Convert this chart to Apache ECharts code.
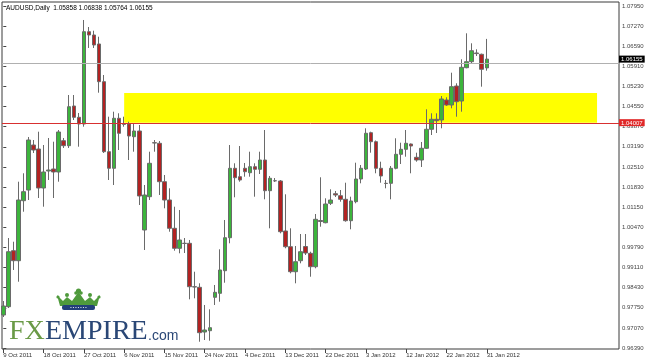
<!DOCTYPE html>
<html><head><meta charset="utf-8">
<script src="https://cdn.jsdelivr.net/npm/echarts@6/dist/echarts.min.js"></script>
<style>html,body{margin:0;padding:0;background:#fff}#c{width:645px;height:363px}</style>
</head><body><div id="c"></div>
<script>
// Bar index 0 = 9 Oct 2011 ... 96 = 31 Jan 2012 (daily bars)
const opens = [0.97507,0.97787,0.99680,0.99342,1.01370,1.01731,1.03252,1.03117,1.01799,1.02374,
1.02441,1.02340,1.03398,1.03229,1.04570,1.04188,1.03962,1.07081,1.06970,1.06666,
1.05392,1.03026,1.02465,1.04155,1.03962,1.03962,1.03533,1.03725,1.00380,1.01505,
1.03330,1.03310,1.02012,1.01393,1.00437,0.99761,0.99930,0.99930,0.98463,0.98443,
0.96932,0.96976,0.98105,0.98240,0.99004,1.00119,1.02465,1.02181,1.02465,1.02316,
1.02519,1.02431,1.02745,1.01708,1.02046,1.02036,1.00346,0.99815,0.98970,0.99342,
0.99822,0.99592,0.99139,1.00701,1.00626,1.01282,1.01606,1.01539,1.01417,1.00694,
1.01336,1.02103,1.02441,1.03668,1.03364,1.02465,1.01958,1.01958,1.02465,1.02938,
1.03107,1.03286,1.02837,1.02745,1.03141,1.03783,1.04121,1.04097,1.04773,1.04604,
1.05246,1.04739,1.05865,1.06068,1.06362,1.06318,1.05858];
const closes = [0.97811,0.99646,0.99342,1.01393,1.01674,1.03421,1.03083,1.01799,1.02340,1.02407,
1.02340,1.03692,1.03229,1.04547,1.04188,1.03962,1.07081,1.06970,1.06632,1.05392,
1.03026,1.02465,1.04155,1.03648,1.03952,1.03556,1.03725,1.01529,1.01562,1.02634,
1.03320,1.02012,1.01393,1.00437,0.99761,1.00042,0.99925,0.98463,0.98453,0.96909,
0.97000,0.97078,0.98274,0.99028,1.00119,1.02465,1.02147,1.02069,1.02350,1.02519,
1.02431,1.02745,1.01708,1.02127,1.02040,1.00322,0.99815,0.98970,0.99308,0.99646,
0.99602,0.99139,1.00741,1.00667,1.01258,1.01393,1.01562,1.01417,1.00694,1.01360,
1.02103,1.02465,1.03648,1.03364,1.02465,1.02205,1.01951,1.02465,1.02938,1.03107,
1.03310,1.03218,1.02745,1.03141,1.03783,1.04121,1.04074,1.04807,1.04604,1.05223,
1.04716,1.05878,1.06068,1.06439,1.06341,1.05811,1.06155];
const lows = [0.97439,0.97743,0.99028,0.98632,1.00998,1.01393,1.02982,1.01461,1.01167,1.02069,
1.01461,1.02012,1.03151,1.03151,1.04097,1.03195,1.03871,1.06531,1.06531,1.05020,
1.02982,1.02069,1.01900,1.03083,1.03871,1.02745,1.03026,1.01224,0.99704,1.01393,
1.03026,1.01562,1.01113,1.00322,0.99680,0.99592,0.99602,0.98037,0.98071,0.96604,
0.96662,0.96638,0.97845,0.97956,0.98598,0.99930,1.01485,1.02012,1.02181,1.02181,
1.01505,1.02272,1.01417,1.00437,1.02002,1.00268,0.99761,0.98916,0.98578,0.99254,
0.99535,0.98801,0.99085,1.00491,1.00606,1.01224,1.01495,1.01336,1.00660,1.00403,
1.01282,1.01958,1.02407,1.02992,1.02296,1.01978,1.01789,1.01417,1.02431,1.02610,
1.02857,1.02296,1.02688,1.02509,1.03117,1.03590,1.03658,1.03817,1.04570,1.04493,
1.04209,1.04378,1.05845,1.06013,1.06260,1.05223,1.05764];
const highs = [0.97980,1.00109,0.99984,1.02012,1.02296,1.03523,1.03421,1.03702,1.03252,1.03489,
1.03364,1.03759,1.03489,1.04942,1.04942,1.04334,1.07477,1.07240,1.07115,1.06912,
1.05618,1.04209,1.04378,1.04324,1.04209,1.04040,1.03986,1.03928,1.01900,1.03026,
1.03421,1.03387,1.02238,1.01789,1.01167,1.01055,1.00109,1.00042,0.98970,0.98578,
0.97845,0.97699,0.98521,0.99727,1.00718,1.03252,1.02634,1.03218,1.02644,1.03026,
1.02634,1.03026,1.03759,1.02205,1.02137,1.02069,1.01586,1.00437,0.99839,1.00244,
1.00244,0.99646,1.00920,1.02161,1.01451,1.01755,1.01698,1.01731,1.01978,1.01505,
1.02654,1.02576,1.03817,1.03702,1.03404,1.02688,1.02069,1.02543,1.03479,1.03330,
1.03759,1.03303,1.02992,1.03354,1.04459,1.04324,1.04324,1.04908,1.04864,1.05696,
1.05338,1.06149,1.07027,1.06689,1.06487,1.06341,1.06838];

const xTickBars = [0,8,16,24,32,40,48,56,64,72,80,88,96];
const xTickLabels = ["9 Oct 2011","18 Oct 2011","27 Oct 2011","6 Nov 2011","15 Nov 2011","24 Nov 2011",
  "4 Dec 2011","13 Dec 2011","22 Dec 2011","3 Jan 2012","12 Jan 2012","22 Jan 2012","31 Jan 2012"];
const yTicks = [1.07950,1.07270,1.06590,1.05910,1.05230,1.04550,1.03870,1.03190,1.02510,
  1.01830,1.01150,1.00470,0.99790,0.99110,0.98430,0.97750,0.97070,0.96390];

const bidPrice = 1.06155;
const levelPrice = 1.04007;
const zoneLow = 1.04007, zoneHigh = 1.05010;
const zoneStartBar = 24, zoneEndBar = 117.9;
const titleText = "AUDUSD,Daily  1.05858 1.06838 1.05764 1.06155";

const FONT = "'Liberation Sans',Arial,sans-serif";
const candles = opens.map((o, i) => [i, o, closes[i], lows[i], highs[i]]);
const Y_MIN = 0.96358, Y_MAX = 1.08085;

const chart = echarts.init(document.getElementById('c'));
chart.setOption({
  animation: false,
  backgroundColor: '#fff',
  grid: {left: 2, right: 26, top: 2, bottom: 14, containLabel: false, outerBoundsMode: 'none',
    show: true, borderColor: '#3a3a3a', borderWidth: 1, backgroundColor: '#fff'},
  xAxis: {
    type: 'value', min: -0.258, max: 122.26,
    axisLine: {show: false}, splitLine: {show: false},
    axisTick: {show: true, customValues: xTickBars, length: 4, lineStyle: {color: '#444'}},
    axisLabel: {customValues: xTickBars, formatter: v => xTickLabels[xTickBars.indexOf(Math.round(v))] || '',
      align: 'left', margin: 3, fontSize: 6, color: '#333', fontFamily: FONT}
  },
  yAxis: [{
    type: 'value', position: 'right', min: Y_MIN, max: Y_MAX,
    axisLine: {show: false}, splitLine: {show: false},
    axisTick: {show: true, customValues: yTicks, length: 3, lineStyle: {color: '#444'}},
    axisLabel: {customValues: yTicks, formatter: v => v.toFixed(5), margin: 3, fontSize: 6, color: '#444', fontFamily: FONT}
  }, {
    type: 'value', position: 'right', min: Y_MIN, max: Y_MAX, z: 10,
    axisLine: {show: false}, splitLine: {show: false}, axisTick: {show: false},
    axisLabel: {customValues: [bidPrice, levelPrice], margin: 0, fontSize: 6, fontFamily: FONT,
      formatter: v => Math.abs(v - bidPrice) < 1e-6 ? '{b|' + bidPrice.toFixed(5) + '}' : '{r|' + levelPrice.toFixed(5) + '}',
      rich: {
        b: {backgroundColor: '#000', color: '#fff', padding: [1, 2, 0, 2], fontSize: 6, fontFamily: FONT},
        r: {backgroundColor: '#e02828', color: '#fff', padding: [1, 2, 0, 2], fontSize: 6, fontFamily: FONT}
      }}
  }],
  series: [{
    type: 'candlestick',
    data: candles,
    encode: {x: 0, y: [1, 2, 3, 4]},
    barWidth: 4,
    itemStyle: {color: '#3cb43c', color0: '#b22222', borderColor: '#6a6a6a', borderColor0: '#6a6a6a', borderColorDoji: '#6a6a6a', borderWidth: 1},
    markArea: {
      silent: true,
      itemStyle: {color: '#ffff00', opacity: 1},
      data: [[{xAxis: zoneStartBar, yAxis: zoneHigh}, {xAxis: zoneEndBar, yAxis: zoneLow}]]
    },
    markLine: {
      silent: true, symbol: 'none', animation: false, label: {show: false},
      data: [
        {yAxis: bidPrice, lineStyle: {color: '#b0b0b0', width: 1, type: 'solid', opacity: 1}},
        {yAxis: levelPrice, lineStyle: {color: '#d83030', width: 1, type: 'solid', opacity: 1}}
      ]
    }
  }],
  graphic: [
    {type: 'text', left: 6, top: 5, style: {text: titleText, fontSize: 6.5, fontFamily: FONT, fill: '#000'}},
    {type: 'group', children: [
      {type: 'polygon', shape: {points: [[57,295],[63,301],[67,297],[72,301],[78.5,292],[85,301],[90,297],[94,301],[100,295],[97,306],[60,306]]}, style: {fill: '#4f9a3c'}},
      {type: 'circle', shape: {cx: 78.5, cy: 291, r: 2.6}, style: {fill: '#4f9a3c'}},
      {type: 'circle', shape: {cx: 76, cy: 293, r: 1.8}, style: {fill: '#4f9a3c'}},
      {type: 'circle', shape: {cx: 81, cy: 293, r: 1.8}, style: {fill: '#4f9a3c'}},
      {type: 'circle', shape: {cx: 67, cy: 295, r: 2}, style: {fill: '#4f9a3c'}},
      {type: 'circle', shape: {cx: 90, cy: 295, r: 2}, style: {fill: '#4f9a3c'}},
      {type: 'circle', shape: {cx: 58, cy: 297, r: 1.6}, style: {fill: '#4f9a3c'}},
      {type: 'circle', shape: {cx: 99, cy: 297, r: 1.6}, style: {fill: '#4f9a3c'}},
      {type: 'rect', shape: {x: 62, y: 305, width: 33, height: 5, r: 2}, style: {fill: '#23407a'}},
      {type: 'text', style: {x: 78.5, y: 307.5, text: '• • • • • • •', fontSize: 4, fill: '#fff', align: 'center', verticalAlign: 'middle'}}
    ]},
    {type: 'text', style: {x: 9, y: 318, text: 'FX', font: '28px "Liberation Serif", "DejaVu Serif", serif', fill: '#6a9a46', verticalAlign: 'top'}},
    {type: 'text', style: {x: 45, y: 318, text: 'EMPIRE', font: '28px "Liberation Serif", "DejaVu Serif", serif', fill: '#2a4776', verticalAlign: 'top'}},
    {type: 'text', style: {x: 148, y: 329, text: '.com', font: '14px "Liberation Sans", sans-serif', fill: '#2a4776', verticalAlign: 'top'}}
  ]
});
</script>
</body></html>
